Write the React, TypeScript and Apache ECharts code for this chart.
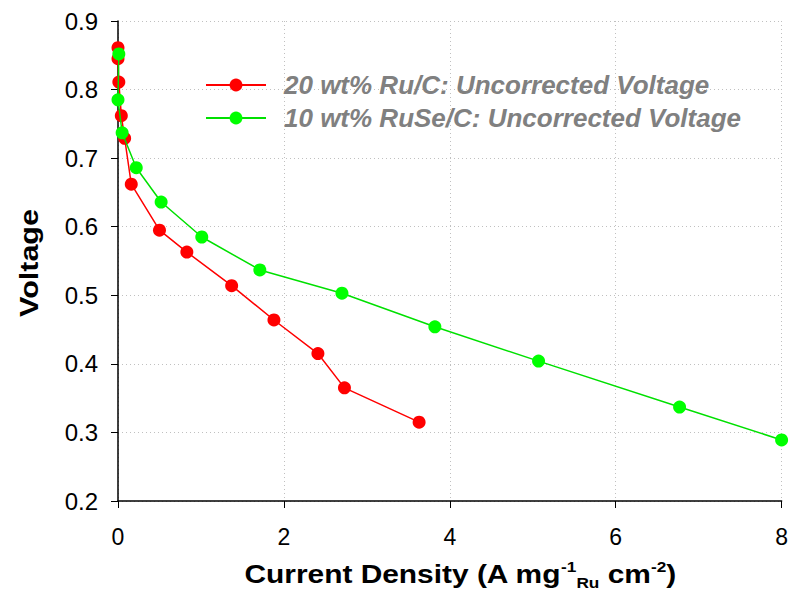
import React, { useEffect, useRef } from "react";
import * as echarts from "echarts";

const ruX = [0.0, 0.0, 0.01, 0.04, 0.08, 0.16, 0.5, 0.83, 1.37, 1.88, 2.41, 2.73, 3.63];
const ruY = [0.861, 0.845, 0.811, 0.762, 0.729, 0.662, 0.595, 0.563, 0.514, 0.464, 0.415, 0.365, 0.315];
const ruseX = [0.01, 0.0, 0.05, 0.22, 0.52, 1.01, 1.71, 2.7, 3.82, 5.07, 6.77, 8.0];
const ruseY = [0.852, 0.785, 0.737, 0.686, 0.636, 0.585, 0.537, 0.503, 0.454, 0.404, 0.337, 0.289];
const seriesNames = ["20 wt% Ru/C: Uncorrected Voltage", "10 wt% RuSe/C: Uncorrected Voltage"];
const xTitle = "Current Density (A mg{sup|-1}{sub|Ru} cm{sup|-2})";
const yTitle = "Voltage";

const FONT = "'Liberation Sans', Arial, sans-serif";

export default function App() {
  const ref = useRef<HTMLDivElement>(null);
  useEffect(() => {
    if (!ref.current) return;
    const chart = echarts.init(ref.current, undefined, { renderer: "svg" });
    const toPts = (xs: number[], ys: number[]) => xs.map((x, i) => [x, ys[i]]);
    chart.setOption({
      animation: false,
      backgroundColor: "#ffffff",
      textStyle: { fontFamily: FONT },
      grid: { left: 118, right: 6, top: 21, bottom: 89, containLabel: false },
      legend: {
        orient: "vertical",
        left: 200,
        top: 67,
        padding: 5,
        itemWidth: 60,
        itemHeight: 16,
        itemGap: 7,
        textStyle: {
          fontFamily: FONT,
          fontSize: 26,
          lineHeight: 26,
          fontWeight: "bold",
          fontStyle: "italic",
          color: "#808080",
          padding: [0, 0, 0, 13],
        },
        data: seriesNames,
      },
      graphic: [
        {
          type: "text",
          x: 460,
          y: 574,
          scaleX: 1.15,
          style: {
            text: xTitle,
            fontFamily: FONT,
            fontSize: 26,
            fontWeight: "bold",
            fill: "#000",
            align: "center",
            verticalAlign: "middle",
            rich: {
              sup: { fontFamily: FONT, fontSize: 15, fontWeight: "bold", fill: "#000", verticalAlign: "top", padding: [0, 0, 12, 0] },
              sub: { fontFamily: FONT, fontSize: 15, fontWeight: "bold", fill: "#000", verticalAlign: "bottom", padding: [16, 0, 0, 0] },
            },
          },
        },
        {
          type: "text",
          x: 29,
          y: 263,
          rotation: Math.PI / 2,
          scaleX: 1.22,
          style: {
            text: yTitle,
            fontFamily: FONT,
            fontSize: 25,
            fontWeight: "bold",
            fill: "#000",
            align: "center",
            verticalAlign: "middle",
          },
        },
      ],
      xAxis: {
        type: "value",
        min: 0,
        max: 8,
        interval: 2,
        axisLine: { show: true, onZero: false, lineStyle: { color: "#000", width: 1.5 } },
        axisTick: { show: true, length: 7, lineStyle: { color: "#000" } },
        axisLabel: { fontFamily: FONT, fontSize: 23, color: "#000", margin: 24 },
        splitLine: { show: true, lineStyle: { color: "#c0c0c0", type: [1, 3], width: 1 } },
      },
      yAxis: {
        type: "value",
        min: 0.2,
        max: 0.9,
        interval: 0.1,
        axisLine: { show: true, onZero: false, lineStyle: { color: "#000", width: 1.5 } },
        axisTick: { show: true, length: 7, lineStyle: { color: "#000" } },
        axisLabel: { fontFamily: FONT, fontSize: 24, color: "#000", margin: 20, formatter: (v: number) => v.toFixed(1) },
        splitLine: { show: true, lineStyle: { color: "#c0c0c0", type: [1, 3], width: 1 } },
      },
      series: [
        {
          name: seriesNames[0],
          type: "line",
          data: toPts(ruX, ruY),
          symbol: "circle",
          symbolSize: 13,
          itemStyle: { color: "#ff0000" },
          lineStyle: { color: "#ff0000", width: 1.5 },
          z: 2,
        },
        {
          name: seriesNames[1],
          type: "line",
          data: toPts(ruseX, ruseY),
          symbol: "circle",
          symbolSize: 13,
          itemStyle: { color: "#00ff00" },
          lineStyle: { color: "#00e000", width: 1.5 },
          z: 3,
        },
      ],
    });
    return () => chart.dispose();
  }, []);
  return <div ref={ref} style={{ width: 791, height: 590, position: "absolute", left: 0, top: 0 }} />;
}
